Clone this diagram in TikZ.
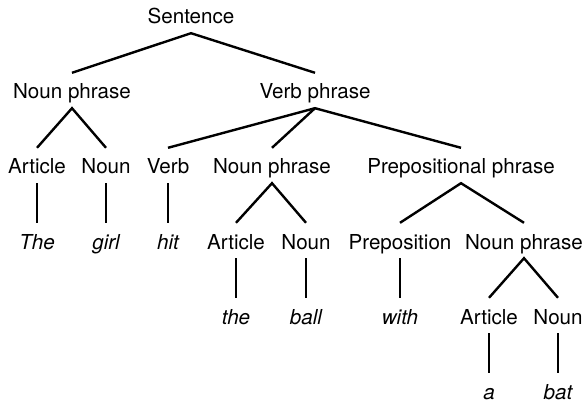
\documentclass[tikz,border=0pt]{standalone}
\usepackage{fontspec}
\setmainfont{TeX Gyre Heros}
\begin{document}
\begin{tikzpicture}[x=1pt,y=-1pt,
  lbl/.style={font=\fontsize{20.6}{24}\selectfont, inner sep=0pt, text height=26pt, text depth=9pt, anchor=base},
  word/.style={lbl, font=\fontsize{20.6}{24}\selectfont\itshape},
  link/.style={line width=2.4pt, line join=miter}]
\useasboundingbox (0,0) rectangle (585,403);
% row 1
\node[lbl] (s) at (191,24) {Sentence};
% row 2
\node[lbl] (np1) at (72,99) {Noun phrase};
\node[lbl] (vp) at (315,99) {Verb phrase};
% row 3
\node[lbl] (art1) at (37,174) {Article};
\node[lbl] (n1) at (106,174) {Noun};
\node[lbl] (v) at (168,174) {Verb};
\node[lbl] (np2) at (272,174) {Noun phrase};
\node[lbl] (pp) at (461,174) {Prepositional phrase};
% row 4
\node[word] (w1) at (37,249) {The};
\node[word] (w2) at (106,249) {girl};
\node[word] (w3) at (168,249) {hit};
\node[lbl] (art2) at (236,249) {Article};
\node[lbl] (n2) at (306,249) {Noun};
\node[lbl] (prep) at (400,249) {Preposition};
\node[lbl] (np3) at (524,249) {Noun phrase};
% row 5
\node[word] (w4) at (236,324) {the};
\node[word] (w5) at (306,324) {ball};
\node[word] (w6) at (400,324) {with};
\node[lbl] (art3) at (489,324) {Article};
\node[lbl] (n3) at (558,324) {Noun};
% row 6
\node[word] (w7) at (489,399) {a};
\node[word] (w8) at (558,399) {bat};
% connectors
\draw[link] (np1.north) -- (s.south) -- (vp.north);
\draw[link] (art1.north) -- (np1.south) -- (n1.north);
\draw[link] (v.north) -- (vp.south) -- (pp.north);
\draw[link] (vp.south) -- (np2.north);
\draw[link] (art1.south) -- (w1.north);
\draw[link] (n1.south) -- (w2.north);
\draw[link] (v.south) -- (w3.north);
\draw[link] (art2.north) -- (np2.south) -- (n2.north);
\draw[link] (prep.north) -- (pp.south) -- (np3.north);
\draw[link] (art2.south) -- (w4.north);
\draw[link] (n2.south) -- (w5.north);
\draw[link] (prep.south) -- (w6.north);
\draw[link] (art3.north) -- (np3.south) -- (n3.north);
\draw[link] (art3.south) -- (w7.north);
\draw[link] (n3.south) -- (w8.north);
\end{tikzpicture}
\end{document}
